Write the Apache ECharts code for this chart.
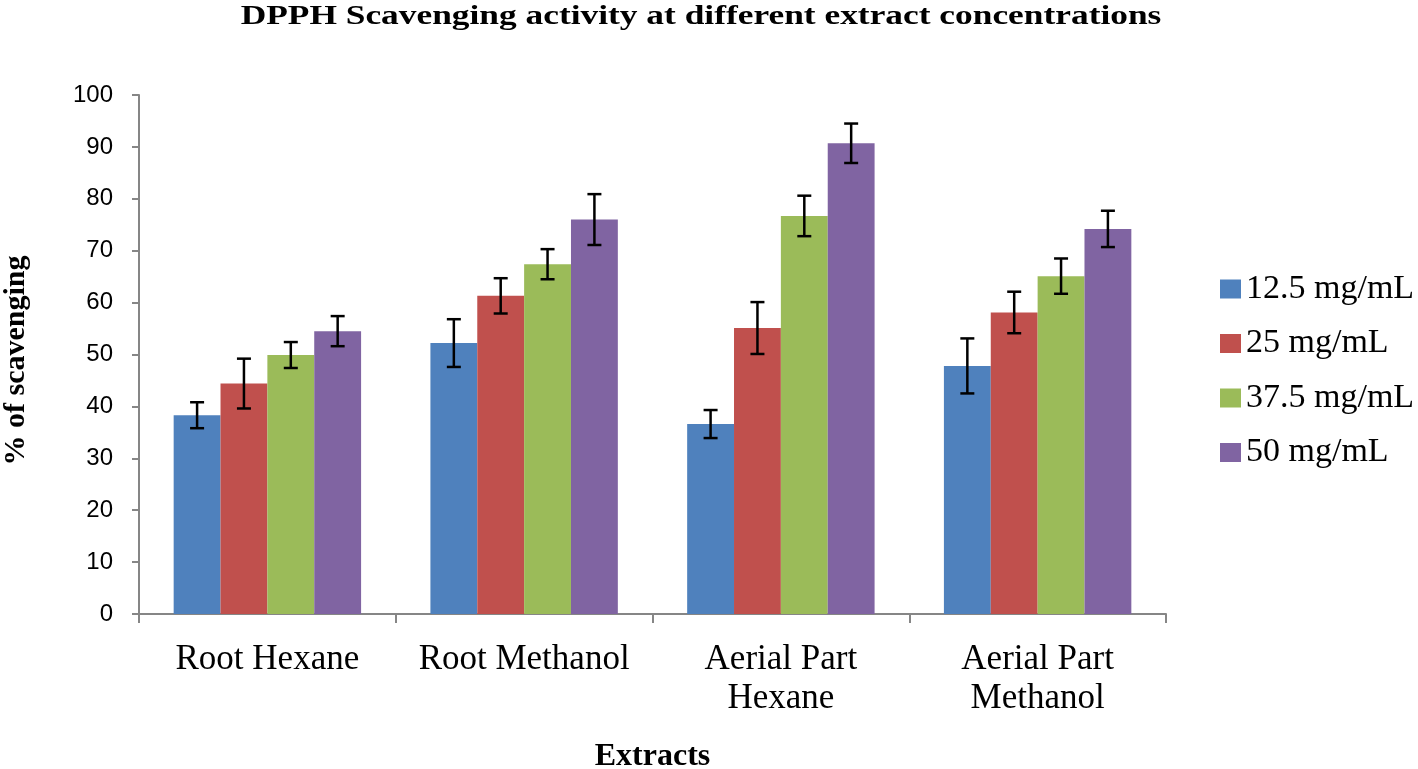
<!DOCTYPE html>
<html>
<head>
<meta charset="utf-8">
<script src="https://cdn.jsdelivr.net/npm/echarts@6/dist/echarts.min.js"></script>
<style>html,body{margin:0;padding:0;background:#fff;overflow:hidden;}#c{width:1418px;height:769px;}</style>
</head>
<body>
<div id="c"></div>
<script>
const categories = ['Root Hexane', 'Root Methanol', 'Aerial Part\nHexane', 'Aerial Part\nMethanol'];
const seriesNames = ['12.5 mg/mL', '25 mg/mL', '37.5 mg/mL', '50 mg/mL'];
const colors = ['#4F81BD', '#C0504D', '#9BBB59', '#8064A2'];
const values125 = [38.3, 52.2, 36.6, 47.8];
const values25 = [44.4, 61.3, 55.1, 58.1];
const values375 = [49.9, 67.4, 76.7, 65.1];
const values50 = [54.5, 76.0, 90.7, 74.2];
const errors125 = [2.5, 4.6, 2.7, 5.3];
const errors25 = [4.8, 3.4, 5.0, 4.0];
const errors375 = [2.5, 2.9, 3.9, 3.4];
const errors50 = [2.9, 4.9, 3.8, 3.5];
const yTicks = [0, 10, 20, 30, 40, 50, 60, 70, 80, 90, 100];

const allValues = [values125, values25, values375, values50];
const allErrors = [errors125, errors25, errors375, errors50];
const CAT_GAP = 0.27;
const serif = '"Liberation Serif", "Times New Roman", serif';

const series = [];
allValues.forEach((vals, i) => {
  series.push({
    name: seriesNames[i],
    type: 'bar',
    data: vals,
    barGap: '0%',
    barCategoryGap: (CAT_GAP * 100) + '%',
    itemStyle: { color: colors[i] },
    silent: true
  });
});
allValues.forEach((vals, i) => {
  series.push({
    name: 'err' + i,
    type: 'custom',
    silent: true,
    z: 10,
    data: vals.map((v, j) => [j, v - allErrors[i][j], v + allErrors[i][j]]),
    renderItem: function (params, api) {
      const ci = api.value(0);
      const catW = api.size([1, 0])[0];
      const bw = catW * (1 - CAT_GAP) / 4;
      const center = api.coord([ci, 0])[0];
      const x = center + (i - 1.5) * bw;
      const lo = api.coord([ci, api.value(1)])[1];
      const hi = api.coord([ci, api.value(2)])[1];
      const cap = 7;
      const st = { stroke: '#000', lineWidth: 2.5 };
      return {
        type: 'group',
        children: [
          { type: 'line', shape: { x1: x, y1: lo, x2: x, y2: hi }, style: st },
          { type: 'line', shape: { x1: x - cap, y1: lo, x2: x + cap, y2: lo }, style: st },
          { type: 'line', shape: { x1: x - cap, y1: hi, x2: x + cap, y2: hi }, style: st }
        ]
      };
    }
  });
});

const chart = echarts.init(document.getElementById('c'), null, { renderer: 'canvas' });
chart.setOption({
  animation: false,
  backgroundColor: '#fff',
  graphic: [
    {
      type: 'text', x: 701, y: 4, scaleX: 1.31, scaleY: 1,
      style: {
        text: 'DPPH Scavenging activity at different extract concentrations',
        font: 'bold 27px "Liberation Serif", "Times New Roman", serif',
        fill: '#000', textAlign: 'center', textVerticalAlign: 'top'
      }
    }
  ],
  legend: {
    orient: 'vertical',
    left: 1215, top: 267,
    itemWidth: 21, itemHeight: 19, itemGap: 20.5,
    data: seriesNames,
    icon: 'rect',
    textStyle: { fontFamily: serif, fontSize: 34, color: '#000' }
  },
  grid: { left: 139, right: 252, top: 95, bottom: 155, containLabel: false, outerBoundsMode: 'none' },
  xAxis: {
    type: 'category',
    data: categories,
    name: 'Extracts',
    nameLocation: 'middle',
    nameGap: 127,
    nameTextStyle: { fontFamily: serif, fontWeight: 'bold', fontSize: 32, color: '#000' },
    axisLine: { lineStyle: { color: '#868686', width: 2 } },
    axisTick: { show: true, alignWithLabel: false, length: 9, lineStyle: { color: '#868686', width: 2 } },
    axisLabel: { fontFamily: serif, fontSize: 35, color: '#000', margin: 26, lineHeight: 39, interval: 0 }
  },
  yAxis: {
    type: 'value',
    min: 0, max: 100, interval: 10,
    name: '% of scavenging',
    nameLocation: 'middle',
    nameGap: 108,
    nameRotate: 90,
    nameTextStyle: { fontFamily: serif, fontWeight: 'bold', fontSize: 30, color: '#000', padding: [0, 12, 0, 0] },
    axisLine: { show: true, lineStyle: { color: '#868686', width: 2 } },
    axisTick: { show: true, length: 7, lineStyle: { color: '#868686', width: 2 } },
    splitLine: { show: false },
    axisLabel: {
      fontFamily: '"Liberation Sans", Arial, sans-serif', fontSize: 24, color: '#000', margin: 26,
      formatter: v => yTicks.includes(v) ? String(v) : ''
    }
  },
  series: series
});
</script>
</body>
</html>
